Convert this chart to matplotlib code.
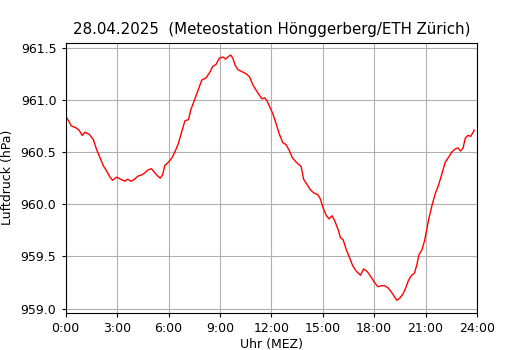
#!/usr/bin/env python3
"""Luftdruck-Tagesgang 28.04.2025, Meteostation Hoenggerberg."""

import matplotlib
matplotlib.use('Agg')
import matplotlib.pyplot as plt

# Stunden seit Mitternacht (MEZ) und Luftdruck in hPa
hours = [
    0.00, 0.13, 0.33, 0.62, 0.78, 0.96, 1.13, 1.37, 1.61, 1.79,
    1.99, 2.19, 2.38, 2.58, 2.73, 2.97, 3.20, 3.46, 3.61, 3.81,
    4.02, 4.22, 4.42, 4.61, 4.81, 5.00, 5.16, 5.31, 5.51, 5.65,
    5.78, 5.98, 6.18, 6.37, 6.57, 6.76, 6.96, 7.16, 7.31, 7.54,
    7.74, 7.94, 8.19, 8.39, 8.58, 8.77, 8.97, 9.17, 9.33, 9.46,
    9.62, 9.75, 9.89, 10.05, 10.28, 10.53, 10.73, 10.93, 11.12, 11.32,
    11.45, 11.61, 11.75, 11.91, 12.08, 12.28, 12.47, 12.67, 12.86, 13.06,
    13.21, 13.41, 13.61, 13.74, 13.88, 14.08, 14.27, 14.46, 14.72, 14.86,
    15.01, 15.21, 15.37, 15.54, 15.70, 15.89, 16.03, 16.19, 16.36, 16.56,
    16.75, 16.95, 17.20, 17.38, 17.57, 17.79, 18.02, 18.22, 18.42, 18.61,
    18.80, 19.00, 19.20, 19.33, 19.49, 19.68, 19.82, 20.00, 20.19, 20.35,
    20.49, 20.62, 20.78, 20.94, 21.07, 21.20, 21.36, 21.56, 21.75, 21.95,
    22.14, 22.34, 22.53, 22.73, 22.88, 23.04, 23.19, 23.31, 23.47, 23.63,
    23.74, 23.84,
]
pressure = [
    960.84, 960.81, 960.75, 960.73, 960.71, 960.66, 960.69, 960.67, 960.62, 960.53,
    960.45, 960.37, 960.32, 960.26, 960.23, 960.26, 960.24, 960.22, 960.24, 960.22,
    960.24, 960.27, 960.28, 960.30, 960.33, 960.34, 960.31, 960.28, 960.25, 960.28,
    960.37, 960.40, 960.44, 960.50, 960.58, 960.69, 960.80, 960.81, 960.91, 961.01,
    961.10, 961.19, 961.21, 961.26, 961.32, 961.34, 961.40, 961.41, 961.39, 961.41,
    961.43, 961.40, 961.33, 961.29, 961.27, 961.25, 961.22, 961.14, 961.09, 961.04,
    961.01, 961.02, 960.99, 960.93, 960.87, 960.77, 960.67, 960.59, 960.57, 960.51,
    960.45, 960.41, 960.38, 960.36, 960.24, 960.19, 960.14, 960.11, 960.09, 960.05,
    959.97, 959.89, 959.86, 959.89, 959.84, 959.76, 959.68, 959.66, 959.57, 959.49,
    959.41, 959.36, 959.32, 959.38, 959.36, 959.31, 959.25, 959.21, 959.22, 959.22,
    959.20, 959.16, 959.11, 959.08, 959.10, 959.14, 959.19, 959.27, 959.32, 959.34,
    959.42, 959.52, 959.56, 959.65, 959.76, 959.87, 959.98, 960.10, 960.18, 960.29,
    960.40, 960.45, 960.50, 960.53, 960.54, 960.51, 960.54, 960.63, 960.66, 960.65,
    960.68, 960.71,
]

xticks = [0, 3, 6, 9, 12, 15, 18, 21, 24]
xtick_labels = ['0:00', '3:00', '6:00', '9:00', '12:00', '15:00', '18:00', '21:00', '24:00']
yticks = [959.0, 959.5, 960.0, 960.5, 961.0, 961.5]

fig = plt.figure(figsize=(5.3, 3.5), dpi=100)
ax = fig.add_axes([0.124, 0.107, 0.776, 0.771])

ax.plot(hours, pressure, color='red', lw=1.0)

ax.set_xlim(0, 24)
ax.set_xticks(xticks)
ax.set_xticklabels(xtick_labels)
ax.set_yticks(yticks)
ax.set_yticklabels([f'{v:.1f}' for v in yticks])
ax.tick_params(labelsize=9, length=3.2)
ax.grid(True)

ax.set_xlabel('Uhr (MEZ)', fontsize=9, labelpad=2)
ax.set_ylabel('Luftdruck (hPa)', fontsize=9, labelpad=4.5)
ax.set_title('28.04.2025  (Meteostation Hönggerberg/ETH Zürich)', fontsize=10.8)

fig.savefig('out.png', dpi=100)
